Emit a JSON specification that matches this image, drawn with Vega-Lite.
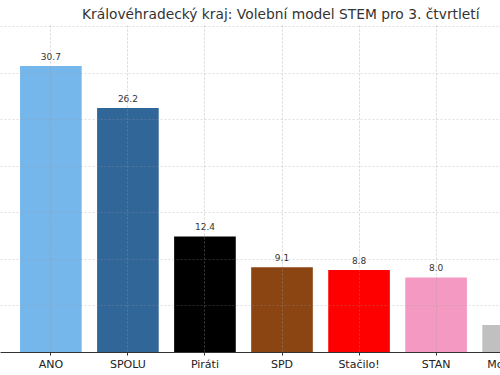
{
  "$schema": "https://vega.github.io/schema/vega-lite/v6.json",
  "width": 564,
  "height": 327,
  "autosize": {"type": "none"},
  "padding": {"left": 0, "top": 25, "right": 0, "bottom": 23},
  "background": "white",
  "title": {
    "text": "Královéhradecký kraj: Volební model STEM pro 3. čtvrtletí",
    "font": "DejaVu Sans",
    "fontSize": 13.8,
    "fontWeight": "normal",
    "color": "#333333",
    "anchor": "start",
    "dx": 82,
    "offset": 3
  },
  "config": {"view": {"stroke": null}},
  "data": {
    "values": [
      {"strana": "ANO", "hodnota": 30.7},
      {"strana": "SPOLU", "hodnota": 26.2},
      {"strana": "Piráti", "hodnota": 12.4},
      {"strana": "SPD", "hodnota": 9.1},
      {"strana": "Stačilo!", "hodnota": 8.8},
      {"strana": "STAN", "hodnota": 8.0},
      {"strana": "Motoristé", "hodnota": 2.9}
    ]
  },
  "encoding": {
    "x": {
      "field": "strana",
      "type": "nominal",
      "sort": null,
      "scale": {"paddingInner": 0.2, "paddingOuter": 0.26},
      "axis": {
        "title": null,
        "labelAngle": 0,
        "labelFont": "DejaVu Sans",
        "labelFontSize": 11,
        "labelColor": "#222222",
        "labelPadding": 3,
        "domainColor": "#333333",
        "tickColor": "#333333",
        "tickSize": 3,
        "grid": true,
        "gridColor": "#999999",
        "gridDash": [2, 2],
        "gridOpacity": 0.4,
        "zindex": 1
      }
    },
    "y": {
      "field": "hodnota",
      "type": "quantitative",
      "scale": {"domain": [0, 35.1], "nice": false},
      "axis": {
        "title": null,
        "labels": false,
        "ticks": false,
        "domain": false,
        "values": [5, 10, 15, 20, 25, 30, 35],
        "grid": true,
        "gridColor": "#999999",
        "gridDash": [2, 2],
        "gridOpacity": 0.3,
        "zindex": 1
      }
    }
  },
  "layer": [
    {
      "mark": {"type": "bar"},
      "encoding": {
        "color": {
          "field": "strana",
          "type": "nominal",
          "scale": {
            "domain": ["ANO", "SPOLU", "Piráti", "SPD", "Stačilo!", "STAN", "Motoristé"],
            "range": ["#76B7EB", "#316699", "#000000", "#8B4513", "#FF0000", "#F49AC2", "#C0C0C0"]
          },
          "legend": null
        }
      }
    },
    {
      "mark": {"type": "text", "baseline": "alphabetic", "dy": -6, "font": "DejaVu Sans", "fontSize": 9, "color": "#333333"},
      "encoding": {
        "text": {"field": "hodnota", "type": "quantitative", "format": ".1f"}
      }
    }
  ]
}
